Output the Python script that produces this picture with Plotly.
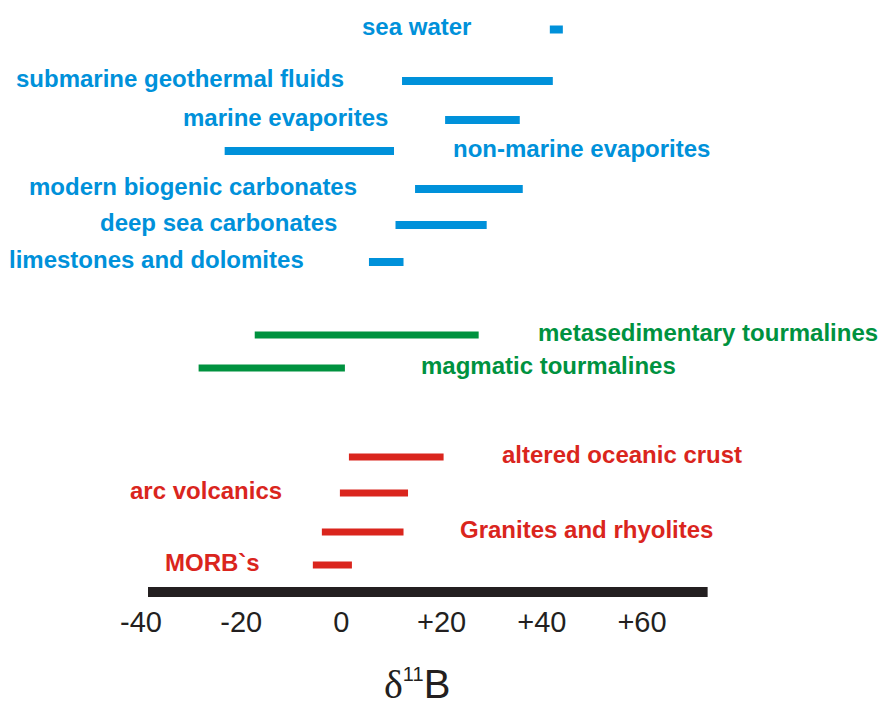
import plotly.graph_objects as go

# ---- data (delta 11B ranges, per mil) ----
names = ["sea water", "submarine geothermal fluids", "marine evaporites",
         "non-marine evaporites", "modern biogenic carbonates", "deep sea carbonates",
         "limestones and dolomites", "metasedimentary tourmalines", "magmatic tourmalines",
         "altered oceanic crust", "arc volcanics", "Granites and rhyolites", "MORB`s"]
range_lo = [41.6, 12.1, 20.7, -23.3, 14.7, 10.8, 5.5, -17.3, -28.5, 1.5, -0.3, -3.9, -5.7]
range_hi = [44.2, 42.2, 35.6, 10.5, 36.2, 29.0, 12.4, 27.4, 0.7, 20.4, 13.3, 12.4, 2.1]
groups = ["blue"] * 7 + ["green"] * 2 + ["red"] * 4
tick_vals = [-40, -20, 0, 20, 40, 60]
tick_text = ["-40", "-20", "0", "+20", "+40", "+60"]
axis_extent = [-38.6, 73.1]

# ---- layout / style (positions, sizes, colours) ----
row_y = [29.5, 81, 120, 151, 189, 225, 262, 335, 368, 457, 493, 532, 565]
axis_bar_y = 592
label_side = ["left", "left", "left", "right", "left", "left", "left",
              "right", "right", "right", "left", "right", "left"]
label_gap = [77, 56, 55, 57, 56, 57, 63, 57, 74, 56, 56, 54, 51]
colors = {"blue": "#0091DA", "green": "#00923F", "red": "#DA251D"}
widths = {"blue": 8, "green": 7, "red": 7}
W, H = 878, 706
PLOT_BOTTOM = 600
PX_PER_UNIT = 5.01
ZERO_PX = 341.4
FONT = "Liberation Sans, Arial, sans-serif"

fig = go.Figure()
for g in ["blue", "green", "red"]:
    xs, ys = [], []
    for lo, hi, gg, yy in zip(range_lo, range_hi, groups, row_y):
        if gg == g:
            xs += [lo, hi, None]
            ys += [yy, yy, None]
    fig.add_trace(go.Scatter(x=xs, y=ys, mode="lines",
                             line=dict(color=colors[g], width=widths[g]),
                             hoverinfo="skip", showlegend=False))

# the thick black axis bar
fig.add_shape(type="line", xref="x", yref="y", x0=axis_extent[0], x1=axis_extent[1],
              y0=axis_bar_y, y1=axis_bar_y, line=dict(color="#231F20", width=10))

for n, lo, hi, g, yy, side, gap in zip(names, range_lo, range_hi, groups, row_y, label_side, label_gap):
    left = side == "left"
    fig.add_annotation(x=lo if left else hi, y=yy, xref="x", yref="y", text=n, showarrow=False,
                       xanchor="right" if left else "left", yanchor="middle",
                       xshift=-gap if left else gap, yshift=3,
                       font=dict(family=FONT, size=24, color=colors[g], weight="bold"))

fig.add_annotation(x=417 / W, y=(PLOT_BOTTOM - 660) / PLOT_BOTTOM, xref="paper", yref="paper",
                   text=("<span style=\"font-family:'Liberation Serif', serif\">δ</span>"
                         "<sup><span style=\"font-size:20px\">11</span></sup>B"),
                   showarrow=False, xanchor="center", yanchor="top",
                   font=dict(family=FONT, size=40, color="#231F20"))

x_range = [-ZERO_PX / PX_PER_UNIT, (W - ZERO_PX) / PX_PER_UNIT]
fig.update_xaxes(domain=[0, 1], range=x_range,
                 showline=False, showgrid=False, zeroline=False, ticks="",
                 tickmode="array", tickvals=tick_vals, ticktext=tick_text,
                 ticklabelstandoff=2,
                 tickfont=dict(family=FONT, size=29, color="#231F20"))
fig.update_yaxes(range=[PLOT_BOTTOM, 0], visible=False, showgrid=False, zeroline=False)
fig.update_layout(width=W, height=H, margin=dict(l=0, r=0, t=0, b=H - PLOT_BOTTOM),
                  plot_bgcolor="white", paper_bgcolor="white")
fig.write_html("out.html", config={"displayModeBar": False},
               post_script="document.body.style.margin='0px';")
